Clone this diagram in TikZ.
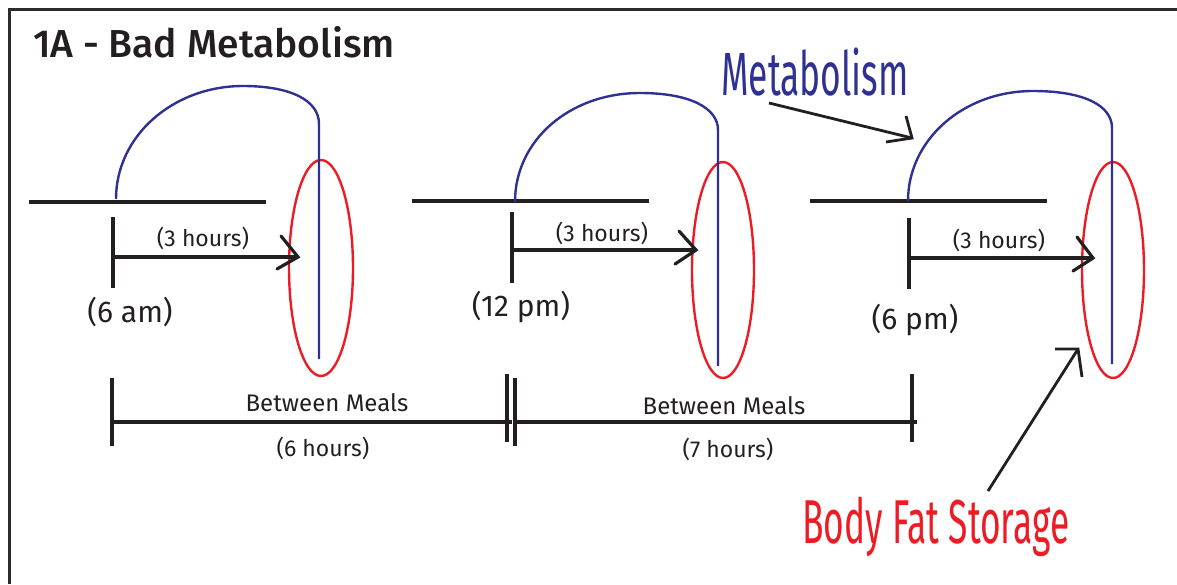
\documentclass[tikz,border=0pt]{standalone}
\usepackage{fontspec}
\setmainfont{Fira Sans}
\newfontfamily\titlefont{Fira Sans Medium}
\newfontfamily\handfont{Fira Sans}
\definecolor{ink}{HTML}{231F20}
\definecolor{mblue}{HTML}{2E3192}
\definecolor{fred}{HTML}{ED1C24}
\definecolor{framec}{HTML}{2B2B2B}
\tikzset{
  blk/.style={draw=ink, line width=3.2pt},
  metab/.style={draw=mblue, line width=2.4pt},
  fat/.style={draw=fred, line width=2.4pt},
  smalllbl/.style={text=ink, inner sep=0pt, font=\fontsize{23}{25}\selectfont},
  timelbl/.style={text=ink, inner sep=0pt, font=\fontsize{30}{32}\selectfont},
  meallbl/.style={text=ink, inner sep=0pt, font=\fontsize{24}{26}\selectfont},
  hourlbl/.style={text=ink, inner sep=0pt, font=\fontsize{23}{25}\selectfont},
}
\begin{document}
\begin{tikzpicture}[x=1pt,y=-1pt]
\useasboundingbox (0,0) rectangle (1177,584);
% frame
\draw[draw=framec, line width=3pt] (9,584) -- (9,9) -- (1177,9);
% title
\node[anchor=base west, inner sep=0pt, text=ink, font=\fontsize{39}{41}\selectfont\titlefont] (title) at (33,57) {1A - Bad Metabolism};

% ---------- group 1 ----------
\coordinate (g1a) at (29,202); \coordinate (g1b) at (266,202);
\draw[blk] (g1a) -- (g1b);
\draw[fat] (321,268) ellipse [x radius=32pt, y radius=108pt];
\coordinate (g1s) at (116,199); \coordinate (g1t) at (243,86); \coordinate (g1c) at (319,124); \coordinate (g1e) at (319,359);
\draw[metab] (g1s) .. controls (116,136) and (173,86) .. (g1t) .. controls (290,86) and (319,100) .. (g1c) -- (g1e);
\coordinate (k1a) at (113,217); \coordinate (k1b) at (113,288);
\draw[blk] (k1a) -- (k1b);
\coordinate (a1s) at (113,257); \coordinate (a1e) at (298,257);
\coordinate (h1u) at (281,236); \coordinate (h1l) at (277,269);
\draw[blk] (a1s) -- (a1e);
\draw[blk, line cap=round] (h1u) -- (a1e) -- (h1l);
\node[smalllbl] (hrs1) at (203,238) {(3 hours)};
\node[timelbl] (t1) at (130,312) {(6 am)};

% ---------- group 2 ----------
\coordinate (g2a) at (412,201); \coordinate (g2b) at (649,201);
\draw[blk] (g2a) -- (g2b);
\draw[fat] (723,270) ellipse [x radius=31pt, y radius=108pt];
\coordinate (g2s) at (515,202); \coordinate (g2t) at (640,93); \coordinate (g2c) at (718,130); \coordinate (g2e) at (718,366);
\draw[metab] (g2s) .. controls (515,140) and (570,93) .. (g2t) .. controls (690,93) and (718,108) .. (g2c) -- (g2e);
\coordinate (k2a) at (512,212); \coordinate (k2b) at (512,283);
\draw[blk] (k2a) -- (k2b);
\coordinate (a2s) at (512,250); \coordinate (a2e) at (696,250);
\coordinate (h2u) at (679,231); \coordinate (h2l) at (675,264);
\draw[blk] (a2s) -- (a2e);
\draw[blk, line cap=round] (h2u) -- (a2e) -- (h2l);
\node[smalllbl] (hrs2) at (602,233) {(3 hours)};
\node[timelbl] (t2) at (521,307) {(12 pm)};

% ---------- group 3 ----------
\coordinate (g3a) at (810,201); \coordinate (g3b) at (1047,201);
\draw[blk] (g3a) -- (g3b);
\draw[fat] (1113,270) ellipse [x radius=31pt, y radius=108pt];
\coordinate (g3s) at (908,201); \coordinate (g3t) at (1033,91); \coordinate (g3c) at (1112,128); \coordinate (g3e) at (1112,364);
\draw[metab] (g3s) .. controls (908,140) and (963,91) .. (g3t) .. controls (1085,91) and (1112,106) .. (g3c) -- (g3e);
\coordinate (k3a) at (909,218); \coordinate (k3b) at (909,289);
\draw[blk] (k3a) -- (k3b);
\coordinate (a3s) at (909,258); \coordinate (a3e) at (1093,258);
\coordinate (h3u) at (1077,237); \coordinate (h3l) at (1073,271);
\draw[blk] (a3s) -- (a3e);
\draw[blk, line cap=round] (h3u) -- (a3e) -- (h3l);
\node[smalllbl] (hrs3) at (999,240) {(3 hours)};
\node[timelbl] (t3) at (915,320) {(6 pm)};

% ---------- between meals ----------
\coordinate (m1a) at (112,378); \coordinate (m1b) at (112,446);
\coordinate (m2a) at (507,374); \coordinate (m2b) at (507,442);
\coordinate (m3a) at (515,378); \coordinate (m3b) at (515,446);
\coordinate (m4a) at (912,374); \coordinate (m4b) at (912,442);
\draw[blk] (m1a) -- (m1b);
\draw[blk] (m2a) -- (m2b);
\draw[blk] (m3a) -- (m3b);
\draw[blk] (m4a) -- (m4b);
\coordinate (d1a) at (110,422); \coordinate (d1b) at (512,422);
\coordinate (d2a) at (515,422); \coordinate (d2b) at (917,422);
\draw[blk] (d1a) -- (d1b);
\draw[blk] (d2a) -- (d2b);
\node[meallbl] (bm1) at (327,403) {Between Meals};
\node[hourlbl] (h6) at (323,448) {(6 hours)};
\node[meallbl] (bm2) at (724,406) {Between Meals};
\node[hourlbl] (h7) at (728,449) {(7 hours)};

% ---------- handwritten callouts ----------
\node[anchor=base west, inner sep=0pt, text=mblue, font=\fontsize{61}{63}\selectfont\handfont] (metlbl) at (721,95) {\scalebox{0.58}[1]{Metabolism}};
\coordinate (ma1) at (769,103); \coordinate (ma2) at (912,138);
\coordinate (mh1) at (906,116); \coordinate (mh2) at (886,142);
\draw[blk, line width=2.8pt] (ma1) -- (ma2);
\draw[blk, line width=2.8pt] (mh1) -- (ma2) -- (mh2);

\node[anchor=base west, inner sep=0pt, text=fred, font=\fontsize{62}{64}\selectfont\handfont] (fatlbl) at (802,543) {\scalebox{0.57}[1]{Body Fat Storage}};
\coordinate (fa1) at (988,491); \coordinate (fa2) at (1078,349);
\coordinate (fh1) at (1055,349); \coordinate (fh2) at (1082,377);
\draw[blk, line width=2.8pt] (fa1) -- (fa2);
\draw[blk, line width=2.8pt] (fh1) -- (fa2) -- (fh2);
\end{tikzpicture}
\end{document}
